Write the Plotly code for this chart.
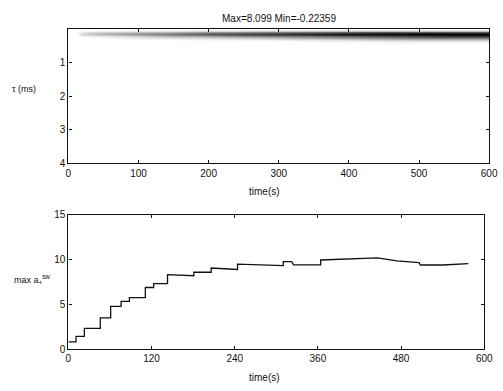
import plotly.graph_objects as go

# ---- top panel (tau vs time image) ----
img_time = [0, 10, 20, 50, 100, 150, 200, 250, 300, 350, 400, 450, 500, 550, 600]
img_tau = [0.0, 0.06, 0.1, 0.14, 0.18, 0.22, 0.26, 0.3, 0.36, 0.45]
img_z = [
    [0, 0, 0, 0, 0, 0, 0, 0, 0, 0, 0, 0, 0, 0, 0],
    [0, 0, 0.3, 0.6, 1, 1.2, 1.5, 1.8, 2, 2.2, 2.4, 2.5, 2.5, 2.5, 2.5],
    [0, 0, 1, 2, 2.5, 3, 4, 4.5, 5, 5.5, 6, 6.5, 6.5, 6.5, 6.5],
    [0, 0, 1.5, 2.5, 3.5, 4.5, 5.5, 6, 6.5, 7, 7.5, 7.5, 8, 8, 8],
    [0, 0, 1, 1.5, 2.5, 3.5, 4, 5, 5.5, 6, 6.5, 7, 7, 7.5, 7.5],
    [0, 0, 0.3, 0.6, 1.2, 2, 2.5, 3, 3.5, 4, 4.5, 5, 5.5, 6, 6],
    [0, 0, 0, 0.3, 0.6, 1, 1.2, 1.5, 2, 2.5, 3, 3.5, 4, 4, 4],
    [0, 0, 0, 0, 0.3, 0.3, 0.5, 0.6, 1, 1.2, 1.5, 2, 2.2, 2.2, 2.2],
    [0, 0, 0, 0, 0, 0, 0, 0, 0, 0.3, 0.4, 0.6, 0.8, 0.8, 0.8],
    [0, 0, 0, 0, 0, 0, 0, 0, 0, 0, 0, 0, 0, 0, 0],
]
top_title = "Max=8.099 Min=-0.22359"
top_xticks = [0, 100, 200, 300, 400, 500, 600]
top_yticks = [1, 2, 3, 4]

# ---- bottom panel (step curve) ----
step_time = [0, 11, 11, 23, 23, 46, 46, 61, 61, 76, 76, 88, 88, 111, 111, 123, 123,
             143, 143, 165, 181, 181, 206, 206, 244, 244, 270, 297, 310, 310, 322, 325,
             364, 364, 390, 446, 474, 506, 508, 540, 577]
step_val = [0.79, 0.79, 1.41, 1.41, 2.32, 2.32, 3.48, 3.48, 4.78, 4.78, 5.33, 5.33,
            5.76, 5.76, 6.88, 6.88, 7.32, 7.32, 8.33, 8.25, 8.2, 8.59, 8.59, 9.06, 8.9,
            9.49, 9.45, 9.34, 9.34, 9.78, 9.78, 9.42, 9.42, 9.96, 10.05, 10.2, 9.85,
            9.67, 9.4, 9.4, 9.56]
bot_xticks = [0, 120, 240, 360, 480, 600]
bot_yticks = [0, 5, 10, 15]

W, H = 503, 391
FONT = "Liberation Sans, Arial, sans-serif"

fig = go.Figure()
fig.add_trace(go.Heatmap(
    x=img_time, y=img_tau, z=img_z, xaxis="x", yaxis="y",
    colorscale=[[0, "#ffffff"], [0.04, "#ffffff"], [1, "#000000"]],
    zmin=-0.22359, zmax=8.099, zsmooth="best", showscale=False, hoverinfo="skip"))
fig.add_trace(go.Scatter(
    x=step_time, y=step_val, xaxis="x2", yaxis="y2", mode="lines",
    line=dict(color="#111111", width=1.3), hoverinfo="skip"))

axis_common = dict(showline=True, linecolor="#111", linewidth=1.2, mirror="ticks",
                   ticks="inside", ticklen=3, tickcolor="#111", showgrid=False,
                   zeroline=False, layer="above traces",
                   tickfont=dict(family=FONT, size=10, color="#111"))

fig.update_layout(
    width=W, height=H, margin=dict(l=0, r=0, t=0, b=0),
    paper_bgcolor="white", plot_bgcolor="white", showlegend=False,
    font=dict(family=FONT, color="#111"),
    xaxis=dict(domain=[67 / W, 498 / W], range=[0, 600], tickvals=top_xticks,
               anchor="y", **axis_common),
    yaxis=dict(domain=[1 - 163 / H, 1 - 25 / H], range=[4, 0], tickvals=top_yticks,
               anchor="x", **axis_common),
    xaxis2=dict(domain=[67 / W, 493 / W], range=[0, 600], tickvals=bot_xticks,
                anchor="y2", **axis_common),
    yaxis2=dict(domain=[1 - 354 / H, 1 - 216 / H], range=[0, 15], tickvals=bot_yticks,
                anchor="x2", **axis_common),
)

def note(text, px, py, size=10):
    fig.add_annotation(text=text, x=px / W, y=1 - py / H, xref="paper", yref="paper",
                       xanchor="center", yanchor="middle", showarrow=False,
                       font=dict(family=FONT, size=size, color="#111"))

note(top_title, 283, 14)
note("time(s)", 268, 192)
note("time(s)", 268, 383)
note("τ (ms)", 22, 86, 9)
note("max a<sub>+</sub><sup>sw</sup>", 30, 282, 9)

fig.write_html(
    "out.html",
    config={"displayModeBar": False},
    post_script="document.body.style.margin='0px';document.body.style.overflow='hidden';",
)
